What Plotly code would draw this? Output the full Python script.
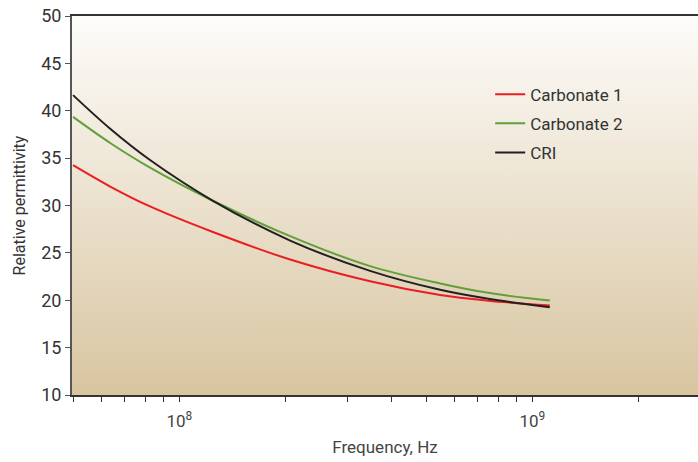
import plotly.graph_objects as go
import urllib.parse

# Data
freq = [5.0e7, 6.37e7, 8.26e7, 1.245e8, 2.06e8, 3.47e8, 5.48e8, 7.5e8, 1.12e9]
carbonate1 = [34.25, 32.0, 29.9, 27.2, 24.3, 22.0, 20.55, 19.95, 19.45]
carbonate2 = [39.35, 36.6, 34.0, 30.5, 26.77, 23.6, 21.77, 20.78, 19.97]
cri = [41.65, 38.1, 34.8, 30.5, 26.3, 23.1, 21.1, 20.15, 19.25]

series_names = ["Carbonate 1", "Carbonate 2", "CRI"]
series_vals = [carbonate1, carbonate2, cri]
series_colors = ["#ec1c24", "#5fa03a", "#231f20"]

major_ticks = [1e8, 1e9]
major_labels = ["10<sup>8</sup>", "10<sup>9</sup>"]
minor_mult = [2, 3, 4, 5, 6, 7, 8, 9]

FONT = "Roboto, Liberation Sans, sans-serif"

fig = go.Figure()
for i, (name, vals, col) in enumerate(zip(series_names, series_vals, series_colors)):
    fig.add_trace(go.Scatter(x=freq, y=vals, mode="lines", name=name,
                             legendgroup=f"g{i}",
                             line=dict(color=col, width=2, shape="spline", smoothing=1.0)))

tickvals, ticktext = [], []
for dec in [1e7, 1e8, 1e9]:
    for m in [1] + minor_mult:
        v = m * dec
        if 5e7 <= v <= 3e9:
            tickvals.append(v)
            if v in major_ticks:
                ticktext.append(major_labels[major_ticks.index(v)])
            else:
                ticktext.append("")

svg = ('<svg xmlns="http://www.w3.org/2000/svg" width="100" height="100" preserveAspectRatio="none">'
       '<defs><linearGradient id="g" x1="0" y1="0" x2="0" y2="1">'
       '<stop offset="0" stop-color="#fdfcfa"/><stop offset="1" stop-color="#d8c5a0"/>'
       '</linearGradient></defs><rect width="100" height="100" fill="url(#g)"/></svg>')
src = "data:image/svg+xml;charset=utf-8," + urllib.parse.quote(svg)

fig.update_layout(
    width=698, height=462,
    margin=dict(l=72, r=0, t=16, b=67),
    paper_bgcolor="white",
    plot_bgcolor="rgba(0,0,0,0)",
    font=dict(family=FONT, color="#333333", size=17),
    images=[dict(source=src, xref="paper", yref="paper", x=0, y=1,
                 sizex=1, sizey=1, sizing="stretch", layer="below",
                 xanchor="left", yanchor="top")],
    legend=dict(x=0.668, y=0.84, xanchor="left", yanchor="top",
                bgcolor="rgba(0,0,0,0)", font=dict(size=17, color="#333333"),
                itemwidth=30, tracegroupgap=4),
    showlegend=True,
    xaxis=dict(type="log", range=[7.696, 9.469], automargin=False,
               tickmode="array", tickvals=tickvals, ticktext=ticktext, tickangle=0,
               ticks="outside", ticklen=5, tickcolor="#333333", tickwidth=1,
               showline=True, linecolor="#333333", linewidth=2, mirror=True,
               showgrid=False, zeroline=False, ticklabelstandoff=5,
               tickfont=dict(size=17, color="#444444"),
               title=dict(text="Frequency, Hz", font=dict(size=17, color="#444444"), standoff=11)),
    yaxis=dict(range=[10, 50], dtick=5, tick0=10, automargin=False,
               ticks="outside", ticklen=5, tickcolor="#555555", tickwidth=1,
               showline=True, linecolor="#555555", linewidth=2,
               showgrid=False, zeroline=False,
               tickfont=dict(size=18, color="#333333"),
               title=dict(text="Relative permittivity", font=dict(size=16, color="#333333"), standoff=12)),
)

fig.write_html("out.html")
